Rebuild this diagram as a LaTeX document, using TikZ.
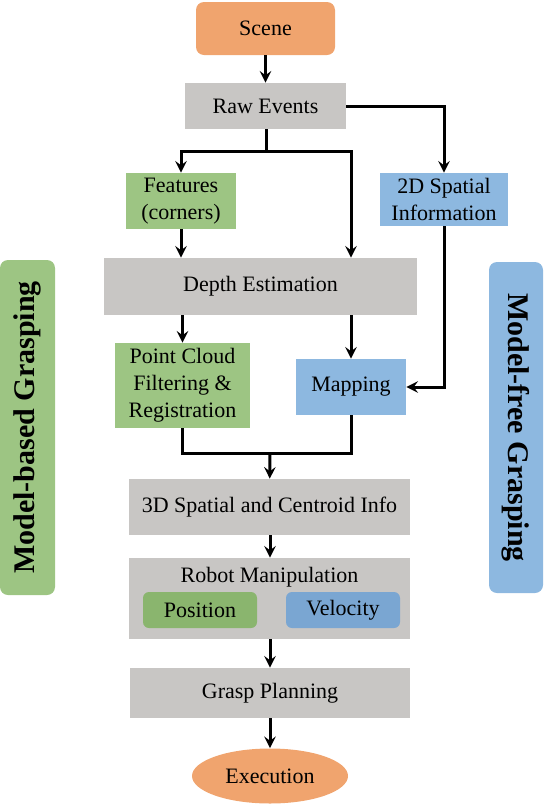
\documentclass[tikz,border=0pt]{standalone}
\usepackage{fontspec}
\setmainfont{Liberation Serif}
\usepackage{xcolor}
\usepackage{tikz}
\usetikzlibrary{shapes.geometric, arrows}
\definecolor{sceneorange}{HTML}{F0A46E}
\definecolor{stepgray}{HTML}{C8C6C4}
\definecolor{basegreen}{HTML}{9DC583}
\definecolor{freeblue}{HTML}{8DB8E0}
\definecolor{posgreen}{HTML}{8AB56E}
\definecolor{velblue}{HTML}{7AA6D2}
\tikzstyle{startstop} = [rectangle, rounded corners=4pt, 
inner sep=0pt, 
text centered, 
fill=sceneorange]
\tikzstyle{endpoint} = [ellipse, 
inner sep=0pt, 
text centered, 
fill=sceneorange]
\tikzstyle{process} = [rectangle, 
inner sep=0pt, 
text centered, 
align=center, 
fill=stepgray]
\tikzstyle{based} = [rectangle, 
inner sep=0pt, 
align=center, 
fill=basegreen]
\tikzstyle{free} = [rectangle, 
inner sep=0pt, 
align=center, 
fill=freeblue]
\tikzstyle{side} = [rectangle, rounded corners=4pt, 
inner sep=0pt, 
font=\fontsize{15}{18}\selectfont\bfseries]
\tikzstyle{arrow} = [line width=1.5pt,->,>=stealth]
\tikzstyle{line} = [line width=1.5pt]

\begin{document}
\begin{tikzpicture}[x=0.5pt, y=-0.5pt, font=\fontsize{11}{13.5}\selectfont]
\useasboundingbox (0,0) rectangle (544,804);

\node (scene) [startstop, minimum width=69.5pt, minimum height=26.5pt] at (265.5,28.5) {Scene};
\node (raw) [process, minimum width=80.5pt, minimum height=23pt] at (265.5,106) {Raw Events};
\node (feat) [based, minimum width=55pt, minimum height=28pt] at (181,201) {Features\\(corners)};
\node (twoD) [free, minimum width=64pt, minimum height=26.5pt] at (444,199.5) {2D Spatial\\Information};
\node (depth) [process, minimum width=156.5pt, minimum height=28.5pt] at (260.5,286.5) {Depth Estimation};
\node (pc) [based, minimum width=67.5pt, minimum height=42.5pt] at (182.5,385.5) {Point Cloud\\Filtering \&\\Registration};
\node (map) [free, minimum width=55pt, minimum height=28pt] at (351,387) {Mapping};
\node (info3d) [process, minimum width=140.5pt, minimum height=28pt] at (269.5,507) {3D Spatial and Centroid Info};
\node (robot) [process, minimum width=140.5pt, minimum height=40.5pt] at (269.5,598.5) {};
\node (robottitle) at (269.5,577) {Robot Manipulation};
\node (pos) [rectangle, rounded corners=3pt, fill=posgreen, minimum width=57pt, minimum height=18pt] at (200,610) {Position};
\node (vel) [rectangle, rounded corners=3pt, fill=velblue, minimum width=57pt, minimum height=18pt] at (343,610) {Velocity};
\node (grasp) [process, minimum width=140pt, minimum height=25pt] at (270,693) {Grasp Planning};
\node (exec) [endpoint, minimum width=78pt, minimum height=27.5pt] at (270,776) {Execution};

% side labels
\node (mbased) [side, fill=basegreen, rotate=90, minimum width=167.5pt, minimum height=27.5pt] at (27.5,427.5) {Model-based Grasping};
\node (mfree) [side, fill=freeblue, rotate=-90, minimum width=165.5pt, minimum height=27pt] at (516,427.5) {Model-free Grasping};

\coordinate (split1) at (266,151);
\coordinate (join1) at (270,453);

\draw [arrow] (scene) -- (raw);
\draw [arrow] (raw.east) -| (twoD.north);
\draw [line] (raw.south -| split1) -- (split1);
\draw [arrow] (split1) -| (feat.north);
\draw [arrow] (split1) -| (depth.north -| map);
\draw [arrow] (feat) -- (feat |- depth.north);
\draw [arrow] (depth.south -| pc) -- (pc);
\draw [arrow] (depth.south -| map) -- (map);
\draw [arrow] (twoD.south) |- (map.east);
\draw [line] (pc.south) |- (join1) -| (map.south);
\draw [arrow] (join1) -- (info3d);
\draw [arrow] (info3d.south -| join1) -- (robot.north -| join1);
\draw [arrow] (robot.south -| join1) -- (grasp.north -| join1);
\draw [arrow] (grasp) -- (exec);

\end{tikzpicture}
\end{document}
